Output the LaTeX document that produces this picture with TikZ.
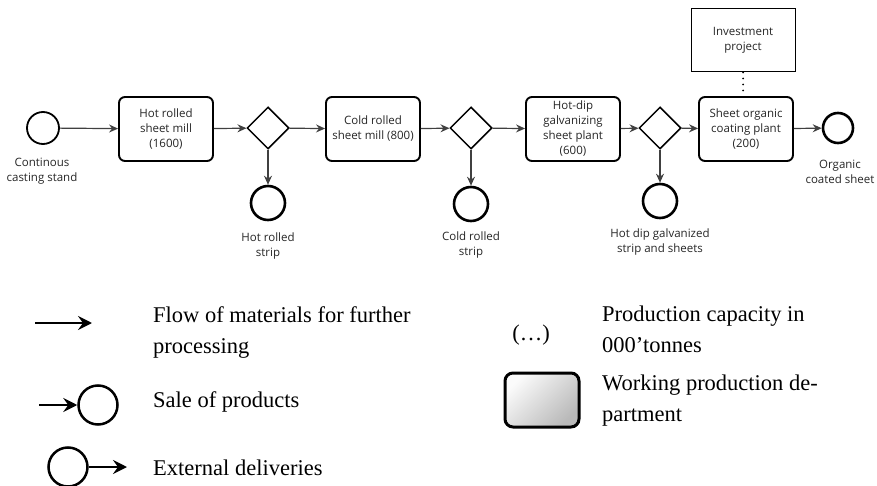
\documentclass[tikz,border=0pt]{standalone}
\usepackage{fontspec}
\setmainfont{Liberation Serif}
\newfontfamily\flowfont{Open Sans}
\usetikzlibrary{shapes.geometric,arrows.meta}

\newcommand{\flowsize}{\flowfont\fontsize{11.5pt}{15pt}\selectfont}
\newcommand{\legsize}{\fontsize{22.5pt}{30.5pt}\selectfont}

\tikzset{
        mill/.style={draw, line width=1.9pt, rounded corners=6pt, minimum width=94pt, minimum height=64pt, inner sep=0pt, align=center, font=\flowsize, text=black!85},
        gate/.style={draw, diamond, line width=1.5pt, minimum width=42pt, minimum height=42pt, inner sep=0pt},
        startev/.style={draw, circle, line width=1.8pt, minimum size=32pt, inner sep=0pt},
        endev/.style={draw, circle, line width=2.6pt, minimum size=34pt, inner sep=0pt},
        evlabel/.style={align=center, inner sep=0pt, font=\flowsize, text=black!85},
        project/.style={draw, line width=1pt, minimum width=104pt, minimum height=63pt, inner sep=0pt, align=center, font=\flowsize, text=black!85},
        flow/.style={draw=black!75, line width=1.2pt, -{Stealth[length=9pt, width=8pt, inset=3pt]}},
        legarrow/.style={line width=2.2pt, -{Stealth[length=14pt, width=14pt, inset=5pt]}},
        legcircle/.style={draw, circle, line width=2.5pt, minimum size=39pt, inner sep=0pt},
        legtext/.style={anchor=base west, align=left, inner sep=0pt, font=\legsize},
        deptbox/.style={draw, line width=3pt, rounded corners=8pt, minimum width=74pt, minimum height=54pt, top color=gray!3, bottom color=gray!55, shading angle=45}
}

\begin{document}
\begin{tikzpicture}[x=1pt, y=-1pt]
        \useasboundingbox (0,0) rectangle (877,486);

        \node[startev] (cast) at (43,128) {};
        \node[evlabel] at (42,171.5) {Continous\\casting stand};
        \node[mill] (hotmill) at (166,129) {Hot rolled\\sheet mill\\(1600)};
        \node[gate] (gate1) at (268,128) {};
        \node[endev] (hotstrip) at (268,203) {};
        \node[evlabel] at (268,246) {Hot rolled\\strip};
        \node[mill] (coldmill) at (373,129) {Cold rolled\\sheet mill (800)};
        \node[gate] (gate2) at (471,128) {};
        \node[endev] (coldstrip) at (471,204) {};
        \node[evlabel] at (471,245.5) {Cold rolled\\strip};
        \node[mill] (galvplant) at (573,129) {Hot-dip\\galvanizing\\sheet plant\\(600)};
        \node[gate] (gate3) at (660,128) {};
        \node[endev] (galvsheet) at (660,201) {};
        \node[evlabel] at (660,242.5) {Hot dip galvanized\\strip and sheets};
        \node[mill] (coatplant) at (746,129) {Sheet organic\\coating plant\\(200)};
        \node[endev, minimum size=30pt] (coated) at (838,128) {};
        \node[evlabel] at (840,172) {Organic\\coated sheet};
        \node[project] (invest) at (743,40.5) {Investment\\project};

        \draw[flow] (cast) -- (hotmill);
        \draw[flow] (hotmill) -- (gate1);
        \draw[flow] (gate1) -- (coldmill);
        \draw[flow] (coldmill) -- (gate2);
        \draw[flow] (gate2) -- (galvplant);
        \draw[flow] (galvplant) -- (gate3);
        \draw[flow] (gate3) -- (coatplant);
        \draw[flow] (coatplant) -- (coated);
        \draw[flow] (gate1) -- (hotstrip);
        \draw[flow] (gate2) -- (coldstrip);
        \draw[flow] (gate3) -- (galvsheet);
        \draw[line width=2pt, line cap=round, dash pattern=on 0pt off 6pt] (invest.south) -- (invest.south |- coatplant.north);

        \coordinate (flowa) at (35,323);
        \coordinate (flowb) at (92,323);
        \draw[legarrow] (flowa) -- (flowb);
        \node[legtext] at (153,353) {Flow of materials for further\\processing};

        \coordinate (salea) at (39,405);
        \node[legcircle] (salec) at (98,405) {};
        \draw[legarrow] (salea) -- (salec);
        \node[legtext] at (153,407) {Sale of products};

        \node[legcircle] (extc) at (68,467) {};
        \coordinate (extb) at (127,467);
        \draw[legarrow] (extc) -- (extb);
        \node[legtext] at (153,475) {External deliveries};

        \node[font=\legsize, inner sep=0pt] at (531,335) {(…)};
        \node[legtext] at (602,352) {Production capacity in\\000’tonnes};
        \node[deptbox] at (542,400) {};
        \node[legtext] at (602,421) {Working production de-\\partment};
\end{tikzpicture}
\end{document}
